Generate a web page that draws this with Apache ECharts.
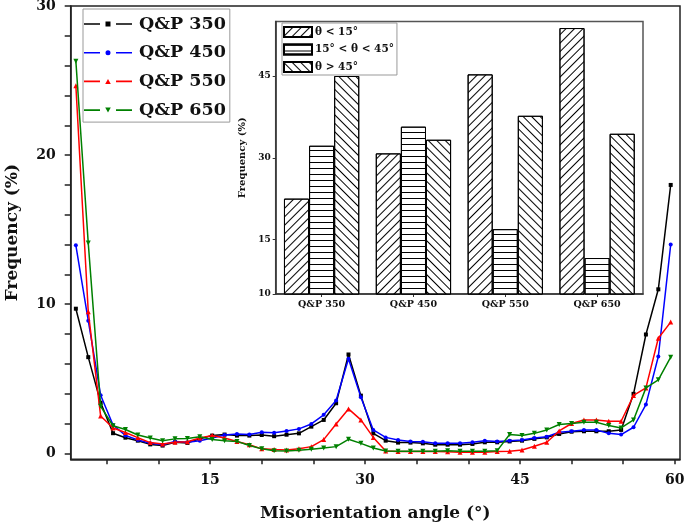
<!DOCTYPE html>
<html><head><meta charset="utf-8">
<script src="https://cdn.jsdelivr.net/npm/echarts@6/dist/echarts.min.js"></script>
<style>html,body{margin:0;padding:0;background:#fff}#c{width:685px;height:529px}</style>
</head><body><div id="c"></div>
<script>
// ---- main chart data ----
const angles = [2.0,3.2,4.4,5.6,6.8,8.0,9.2,10.4,11.6,12.8,14.0,15.2,16.4,17.6,18.8,20.0,21.2,22.4,23.6,24.8,26.0,27.2,28.4,29.6,30.8,32.0,33.2,34.4,35.6,36.8,38.0,39.2,40.4,41.6,42.8,44.0,45.2,46.4,47.6,48.8,50.0,51.2,52.4,53.6,54.8,56.0,57.2,58.4,59.6];
const qp350 = [9.7,6.45,3.4,1.35,1.05,0.85,0.6,0.52,0.74,0.7,0.97,1.19,1.26,1.19,1.19,1.23,1.15,1.25,1.34,1.79,2.24,3.36,6.63,3.87,1.34,0.85,0.72,0.72,0.67,0.58,0.58,0.58,0.63,0.74,0.74,0.8,0.85,0.97,1.07,1.3,1.45,1.48,1.48,1.48,1.57,3.99,7.97,11.0,18.0];
const qp450 = [13.95,8.9,3.9,1.9,1.2,0.9,0.67,0.58,0.8,0.74,0.85,1.03,1.23,1.3,1.26,1.41,1.38,1.5,1.64,1.97,2.58,3.54,6.34,3.76,1.57,1.07,0.9,0.8,0.78,0.67,0.67,0.67,0.74,0.85,0.8,0.85,0.9,1.03,1.12,1.41,1.48,1.57,1.57,1.34,1.26,1.75,3.27,6.49,14.0];
const qp550 = [24.65,9.5,2.5,1.7,1.4,1.05,0.72,0.63,0.74,0.78,1.03,1.19,1.03,0.8,0.58,0.3,0.25,0.22,0.3,0.45,0.92,1.97,2.98,2.24,1.07,0.15,0.12,0.12,0.12,0.12,0.1,0.07,0.07,0.07,0.12,0.14,0.23,0.47,0.74,1.5,2.0,2.24,2.24,2.15,2.15,3.88,4.39,7.72,8.8];
const qp650 = [26.3,14.1,3.15,1.85,1.6,1.23,1.03,0.85,0.97,0.99,1.12,0.92,0.85,0.8,0.52,0.3,0.18,0.16,0.2,0.27,0.36,0.45,0.94,0.67,0.36,0.15,0.14,0.14,0.14,0.14,0.18,0.14,0.14,0.14,0.18,1.26,1.19,1.34,1.57,1.93,2.0,2.08,2.08,1.86,1.7,2.24,4.39,4.93,6.45];
const seriesNames = ['Q&P 350','Q&P 450','Q&P 550','Q&P 650'];
const xTickValues = [5,10,15,20,25,30,35,40,45,50,55,60];
const xLabelValues = [15,30,45,60];
const yTickValues = [0,2,4,6,8,10,12,14,16,18,20,22,24,26,28,30];
const yLabelValues = [0,10,20,30];

// ---- inset data ----
const insetCats = ['Q&P 350','Q&P 450','Q&P 550','Q&P 650'];
const lowAngle = [22.5,30.8,45.3,53.8];
const midAngle = [32.2,35.7,16.9,11.6];
const highAngle = [45.0,33.3,37.7,34.4];
const insetNames = ['θ < 15°','15° < θ < 45°','θ > 45°'];
const insetTickValues = [5,15,30,45];
const insetTickLabels = ['10','15','30','45'];

const FONT = 'DejaVu Serif';
const zip = (xs, ys) => xs.map((x, i) => [x, ys[i]]);
const colors = ['#000000','#0000ff','#ff0000','#008000'];
const symbols = ['rect','circle','triangle','path://M0,0 L10,0 L5,10 Z'];
const symSizes = [4,4,5,5];
// legend icons: dash - marker - dash
const dashes = 'M0 1.7 H16 V3.3 H0 Z M32 1.7 H48 V3.3 H32 Z ';
const legendIcons = [
  'path://' + dashes + 'M21.5 0 H26.5 V5 H21.5 Z',
  'path://' + dashes + 'M21.5 2.5 A2.5 2.5 0 1 0 26.5 2.5 A2.5 2.5 0 1 0 21.5 2.5 Z',
  'path://' + dashes + 'M24 0 L26.8 5 L21.2 5 Z',
  'path://' + dashes + 'M21.2 0 L26.8 0 L24 5 Z'
];
const mainData = [qp350, qp450, qp550, qp650];

const decalBase = {symbol:'rect', symbolSize:1, color:'#000', dashArrayX:[1,0], dashArrayY:[1,4.5]};
const decals = [
  Object.assign({}, decalBase, {rotation: -Math.PI/4}),
  Object.assign({}, decalBase, {rotation: 0}),
  Object.assign({}, decalBase, {rotation: Math.PI/4})
];
const insetData = [lowAngle, midAngle, highAngle];

const series = [];
mainData.forEach((vals, k) => {
  series.push({
    type:'line', name: seriesNames[k], data: zip(angles, vals),
    xAxisIndex:0, yAxisIndex:0,
    symbol: symbols[k], symbolSize: symSizes[k], showAllSymbol:true,
    lineStyle:{width:1.5, color: colors[k]}, itemStyle:{color: colors[k]},
    animation:false, z: 3 + k
  });
});
insetData.forEach((vals, k) => {
  series.push({
    type:'bar', name: insetNames[k], data: vals,
    xAxisIndex:1, yAxisIndex:1,
    barGap:'0%', barCategoryGap:'18%',
    itemStyle:{color:'#fff', borderColor:'#000', borderWidth:1, decal: decals[k]},
    animation:false
  });
});

const chart = echarts.init(document.getElementById('c'), null, {renderer:'canvas'});
chart.setOption({
  backgroundColor:'#fff',
  animation:false,
  grid:[
    {left:70.7, right:5, top:6, bottom:69.7, show:true, borderColor:'#222', borderWidth:1.5, outerBoundsMode:'none'},
    {left:275.7, right:42, top:21.5, bottom:235, show:true, borderColor:'#555', borderWidth:1.5, backgroundColor:'#fff', outerBoundsMode:'none'}
  ],
  xAxis:[
    {type:'value', gridIndex:0, min:1.5, max:60.5,
     name:'Misorientation angle (°)', nameLocation:'middle', nameGap:46,
     nameTextStyle:{fontFamily:FONT, fontWeight:'bold', fontSize:17, color:'#111'},
     axisLine:{show:true, onZero:false, lineStyle:{color:'#222', width:1.5}},
     axisTick:{show:true, length:5, customValues:xTickValues, lineStyle:{color:'#222', width:1.5}},
     axisLabel:{customValues:xLabelValues, margin:14, fontFamily:FONT, fontWeight:'bold', fontSize:14, color:'#111'},
     splitLine:{show:false}},
    {type:'category', gridIndex:1, data:insetCats,
     axisLine:{show:true, lineStyle:{color:'#333', width:1.5}},
     axisTick:{show:true, alignWithLabel:true, length:3, lineStyle:{color:'#333'}},
     axisLabel:{margin:6, fontFamily:FONT, fontWeight:'bold', fontSize:9.5, color:'#111'},
     splitLine:{show:false}}
  ],
  yAxis:[
    {type:'value', gridIndex:0, min:-0.4, max:30,
     name:'Frequency (%)', nameLocation:'middle', nameGap:50,
     nameTextStyle:{fontFamily:FONT, fontWeight:'bold', fontSize:17, color:'#111'},
     axisLine:{show:true, onZero:false, lineStyle:{color:'#222', width:1.5}},
     axisTick:{show:true, length:6, customValues:yTickValues, lineStyle:{color:'#222', width:1.5}},
     axisLabel:{customValues:yLabelValues, margin:15, fontFamily:FONT, fontWeight:'bold', fontSize:14, color:'#111'},
     splitLine:{show:false}},
    {type:'value', gridIndex:1, min:5, max:55,
     name:'Frequency (%)', nameLocation:'middle', nameGap:24,
     nameTextStyle:{fontFamily:FONT, fontWeight:'bold', fontSize:10, color:'#111'},
     axisLine:{show:true, lineStyle:{color:'#333', width:1.5}},
     axisTick:{show:true, length:3, customValues:insetTickValues, lineStyle:{color:'#333'}},
     axisLabel:{customValues:insetTickValues, margin:5, fontFamily:FONT, fontWeight:'bold', fontSize:9, color:'#111',
       formatter: v => insetTickLabels[insetTickValues.indexOf(v)]},
     splitLine:{show:false}}
  ],
  legend:[
    {data: seriesNames.map((n, k) => ({name:n, icon: legendIcons[k]})),
     orient:'vertical', left:83, top:9, itemWidth:48, itemHeight:5, itemGap:6.7,
     borderColor:'#999', borderWidth:1, padding:[4,4,1,1], selectedMode:false,
     textStyle:{fontFamily:FONT, fontWeight:'bold', fontSize:17.5, color:'#111', lineHeight:22, padding:[0,0,0,2]}},
    {data: insetNames.map(n => ({name:n, icon:'rect'})),
     orient:'vertical', left:282, top:23, itemWidth:28, itemHeight:10, itemGap:5.5,
     borderColor:'#999', borderWidth:1, padding:[3,3,2,1], selectedMode:false,
     textStyle:{fontFamily:FONT, fontWeight:'bold', fontSize:10.5, color:'#111', padding:[0,0,0,-2]}}
  ],
  series: series
});
</script>
</body></html>
